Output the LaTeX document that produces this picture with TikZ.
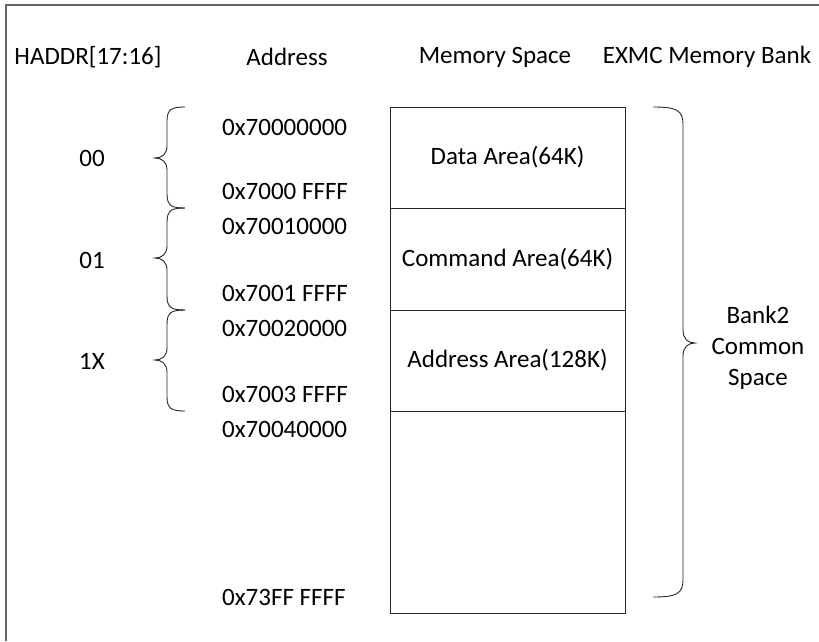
\documentclass[tikz,border=0pt]{standalone}
\usepackage{fontspec}
\setmainfont{Carlito}
\begin{document}
\begin{tikzpicture}[x=1pt,y=-1pt,
  lbl/.style={inner sep=0pt,font=\fontsize{25}{31}\selectfont},
  addr/.style={lbl,anchor=west},
  area/.style={draw=black!85,line width=0.9pt,minimum width=235pt,inner sep=0pt},
  brace/.style={draw=black!85,line width=0.9pt}]
\useasboundingbox (0,0) rectangle (819,641);
\draw[black!60,line width=1.2pt] (6,641) -- (6,5) -- (819,5);
% headers
\node[lbl] (h1) at (88,57) {HADDR[17:16]};
\node[lbl] (h2) at (287,57) {Address};
\node[lbl] (h3) at (495,57) {Memory Space};
\node[lbl] (h4) at (707,57) {EXMC Memory Bank};
% memory areas
\node[area,minimum height=101pt] (d) at (507.5,157.5) {};
\node[area,minimum height=102pt] (c) at (507.5,259) {};
\node[area,minimum height=101pt] (a) at (507.5,360.5) {};
\node[area,minimum height=202pt] (r) at (507.5,512) {};
\node[lbl] (dt) at (d) {Data Area(64K)};
\node[lbl] (ct) at (c) {Command Area(64K)};
\node[lbl] (at) at (a) {Address Area(128K)};
% addresses
\node[addr] (a1) at (222,127) {0x70000000};
\node[addr] (a2) at (222,191) {0x7000 FFFF};
\node[addr] (a3) at (222,226) {0x70010000};
\node[addr] (a4) at (222,293) {0x7001 FFFF};
\node[addr] (a5) at (222,328) {0x70020000};
\node[addr] (a6) at (222,394) {0x7003 FFFF};
\node[addr] (a7) at (222,429) {0x70040000};
\node[addr] (a8) at (222,597) {0x73FF FFFF};
% HADDR values
\node[lbl] (v1) at (92,158) {00};
\node[lbl] (v2) at (92,260) {01};
\node[lbl] (v3) at (92,361) {1X};
% left braces
\foreach \t/\m/\b in {107/158/208, 208/258/310, 310/360/411}{
  \draw[brace] (185,\t) .. controls (172,\t) and (167,\t+2) .. (167,\t+14)
     -- (167,\m-12) .. controls (167,\m-4) and (162,\m) .. (155,\m)
     .. controls (162,\m) and (167,\m+4) .. (167,\m+12)
     -- (167,\b-14) .. controls (167,\b-2) and (172,\b) .. (185,\b);
}
% right brace
\draw[brace] (653,107) .. controls (676,107) and (683,110) .. (683,124)
   -- (683,330) .. controls (683,339) and (688,343) .. (695,343)
   .. controls (688,343) and (683,347) .. (683,356)
   -- (683,580) .. controls (683,594) and (676,597) .. (653,597);
\node[lbl,align=center] (bk) at (758,348) {Bank2\\Common\\Space};
\end{tikzpicture}
\end{document}
